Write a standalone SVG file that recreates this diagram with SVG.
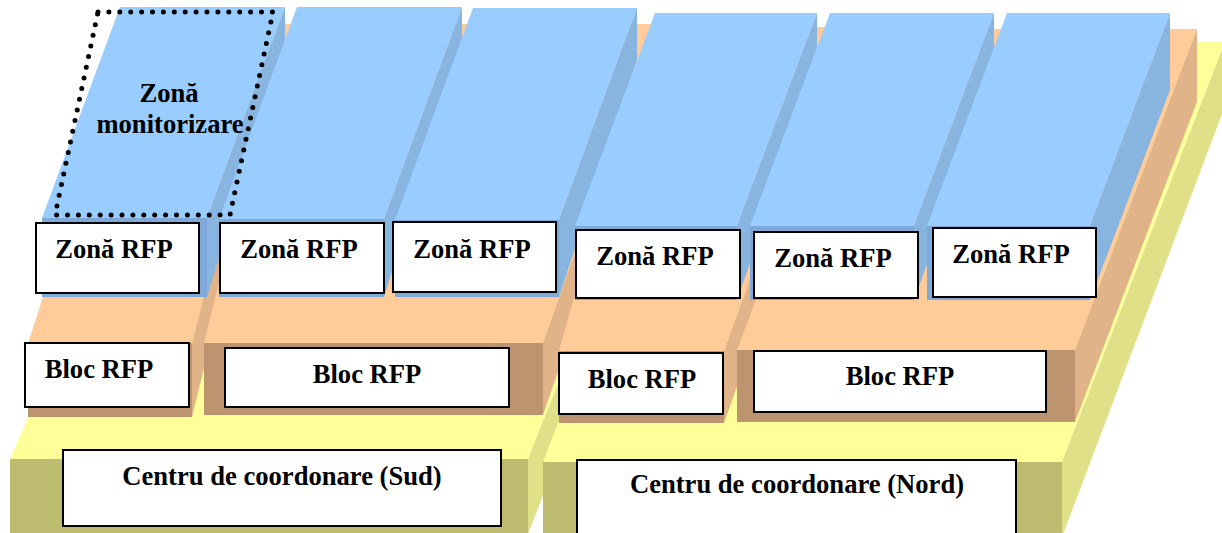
<svg xmlns="http://www.w3.org/2000/svg" width="1222" height="533" viewBox="0 0 1222 533">
<style>
.yt{fill:#ffff99}.ys{fill:#e0e088}.yf{fill:#bcbb70}
.ot{fill:#ffcc99}.os{fill:#e0b488}.of{fill:#bd9470}
.bt{fill:#99ccff}.bs{fill:#88b4e0}.bf{fill:#7fa9d8}
.box{fill:#ffffff;stroke:#000000;stroke-width:2}
.lbl{font-family:"Liberation Serif","Times New Roman",serif;font-weight:bold;font-size:26.6px;fill:#000000;text-anchor:middle}
.dots{fill:none;stroke:#000000;stroke-width:5;stroke-linecap:round;stroke-dasharray:0 10.9}
</style>
<rect x="0" y="0" width="1222" height="533" fill="#ffffff"/>
<g id="layer-coordonare">
  <g id="slab-sud">
    <polygon class="yt" points="10,459 528,459 695,42 193,42"/>
    <polygon class="ys" points="528,459 695,42 695,106 528,534"/>
    <rect class="yf" x="10" y="459" width="518" height="75"/>
  </g>
  <g id="slab-nord">
    <polygon class="yt" points="543,462 1062,462 1225,42 703,42"/>
    <polygon class="ys" points="1062,462 1225,42 1225,106 1062,537"/>
    <rect class="yf" x="543" y="462" width="519" height="75"/>
  </g>
</g>
<g id="layer-bloc">
  <g id="slab-bloc1">
    <polygon class="ot" points="28,343 192,343 272,24 133,24"/>
    <polygon class="os" points="192,343 272,24 272,90 192,417"/>
    <rect class="of" x="28" y="343" width="164" height="74"/>
  </g>
  <g id="slab-bloc2">
    <polygon class="ot" points="204,343 543,343 655,24 284,24"/>
    <polygon class="os" points="543,343 655,24 655,92 543,415"/>
    <rect class="of" x="204" y="343" width="339" height="72"/>
  </g>
  <g id="slab-bloc3">
    <polygon class="ot" points="559,351 724,351 841,27 650,27"/>
    <polygon class="os" points="724,351 841,27 841,97 724,423"/>
    <rect class="of" x="559" y="351" width="165" height="72"/>
  </g>
  <g id="slab-bloc4">
    <polygon class="ot" points="737,350 1075,350 1197,29 857,29"/>
    <polygon class="os" points="1075,350 1197,29 1197,102 1075,422"/>
    <rect class="of" x="737" y="350" width="338" height="72"/>
  </g>
</g>
<g id="layer-zona">
  <g id="slab-zona1">
    <polygon class="bt" points="42,218 207,218 285,7 120,7"/>
    <polygon class="bs" points="207,218 285,7 285,43 207,297"/>
    <rect class="bf" x="42" y="218" width="165" height="79"/>
  </g>
  <g id="slab-zona2">
    <polygon class="bt" points="219,219 384,219 462,7 297,7"/>
    <polygon class="bs" points="384,219 462,7 462,51 384,297"/>
    <rect class="bf" x="219" y="219" width="165" height="78"/>
  </g>
  <g id="slab-zona3">
    <polygon class="bt" points="395,220 559,220 637,8 473,8"/>
    <polygon class="bs" points="559,220 637,8 637,60 559,297"/>
    <rect class="bf" x="395" y="220" width="164" height="77"/>
  </g>
  <g id="slab-zona4">
    <polygon class="bt" points="575,226 737,226 817,13 655,13"/>
    <polygon class="bs" points="737,226 817,13 817,73 737,300"/>
    <rect class="bf" x="575" y="226" width="162" height="74"/>
  </g>
  <g id="slab-zona5">
    <polygon class="bt" points="750,226 914,226 994,13 830,13"/>
    <polygon class="bs" points="914,226 994,13 994,81 914,300"/>
    <rect class="bf" x="750" y="226" width="164" height="74"/>
  </g>
  <g id="slab-zona6">
    <polygon class="bt" points="927,226 1090,226 1170,13 1007,13"/>
    <polygon class="bs" points="1090,226 1170,13 1170,90 1090,300"/>
    <rect class="bf" x="927" y="226" width="163" height="74"/>
  </g>
</g>
<g id="zona-monitorizare">
  <path class="dots" d="M98,12 L273,12 L230,215 L55,215 Z"/>
  <text class="lbl" x="169" y="102">Zonă</text>
  <text class="lbl" x="170" y="133">monitorizare</text>
</g>
<g id="zona-rfp-1"><rect class="box" x="36" y="223" width="163" height="70"/><text class="lbl" x="114" y="258">Zonă RFP</text></g>
<g id="zona-rfp-2"><rect class="box" x="220" y="223" width="164" height="70"/><text class="lbl" x="299" y="258">Zonă RFP</text></g>
<g id="zona-rfp-3"><rect class="box" x="393" y="222" width="163" height="70"/><text class="lbl" x="472" y="258">Zonă RFP</text></g>
<g id="zona-rfp-4"><rect class="box" x="576" y="230" width="164" height="68"/><text class="lbl" x="655" y="265">Zonă RFP</text></g>
<g id="zona-rfp-5"><rect class="box" x="754" y="232" width="164" height="66"/><text class="lbl" x="833" y="267">Zonă RFP</text></g>
<g id="zona-rfp-6"><rect class="box" x="933" y="228" width="163" height="69"/><text class="lbl" x="1011" y="263">Zonă RFP</text></g>
<g id="bloc-rfp-1"><rect class="box" x="25" y="343" width="164" height="64"/><text class="lbl" x="99" y="378">Bloc RFP</text></g>
<g id="bloc-rfp-2"><rect class="box" x="225" y="348" width="284" height="59"/><text class="lbl" x="367" y="383">Bloc RFP</text></g>
<g id="bloc-rfp-3"><rect class="box" x="559" y="353" width="164" height="61"/><text class="lbl" x="642" y="388">Bloc RFP</text></g>
<g id="bloc-rfp-4"><rect class="box" x="754" y="351" width="292" height="61"/><text class="lbl" x="900" y="385">Bloc RFP</text></g>
<g id="centru-sud"><rect class="box" x="63" y="450" width="438" height="76"/><text class="lbl" x="282" y="485">Centru de coordonare (Sud)</text></g>
<g id="centru-nord"><rect class="box" x="577" y="460" width="439" height="80"/><text class="lbl" x="797" y="493">Centru de coordonare (Nord)</text></g>
<g id="connectors"/>
</svg>
